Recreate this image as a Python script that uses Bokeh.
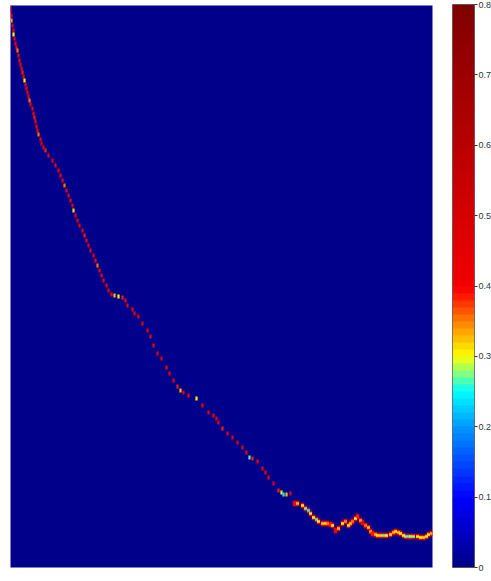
from bokeh.plotting import figure
from bokeh.models import LinearColorMapper, ColorBar, FixedTicker, Range1d, ColumnDataSource
from bokeh.embed import file_html
from bokeh.resources import INLINE
import numpy as np

# ---------------- data (image coords: x right, y down, in image pixels) ----------------
trace_x = [0, 0, 1, 1, 2, 3, 3, 4, 5, 6, 7, 8, 9, 10, 11, 12, 13, 14, 15, 16, 17, 18, 19, 20,
           22, 23, 24, 25, 26, 27, 28, 30, 31, 33, 35, 38, 42, 45, 48, 50, 52, 54, 56, 58, 60,
           62, 63, 65, 67, 69, 72, 74, 76, 78, 80, 83, 85, 87, 89, 91, 93, 96, 98, 101, 104,
           108, 112, 115, 117, 122, 124, 128, 132, 137, 140, 143, 147, 151, 156, 159, 163,
           167, 170, 173, 178, 186, 192, 198, 203, 206, 208, 212, 217, 222, 227, 232, 236,
           239, 242, 247, 252, 255, 258, 263, 268, 271, 273, 276, 280]
trace_y = [1, 5, 10, 15, 20, 25, 29, 33, 38, 42, 45, 50, 55, 59, 63, 67, 71, 75, 79, 83, 87,
           91, 95, 99, 103, 108, 112, 116, 121, 125, 129, 134, 138, 142, 145, 150, 155, 160,
           165, 170, 175, 180, 185, 190, 195, 200, 205, 210, 215, 220, 225, 230, 235, 240, 245,
           250, 255, 260, 265, 270, 275, 280, 285, 289, 290, 291, 292, 295, 300, 304, 308, 311,
           318, 325, 331, 340, 348, 353, 362, 368, 375, 381, 385, 387, 390, 393, 400, 407, 410,
           413, 417, 423, 428, 432, 437, 442, 447, 452, 453, 456, 463, 467, 472, 478, 485, 487,
           489, 489, 488]
trace_v = [0.45, 0.42, 0.40, 0.33, 0.42, 0.44, 0.30, 0.42, 0.40, 0.43, 0.35, 0.42, 0.40, 0.44,
           0.42, 0.38, 0.42, 0.30, 0.42, 0.40, 0.43, 0.42, 0.35, 0.42, 0.44, 0.42, 0.38, 0.42,
           0.40, 0.43, 0.35, 0.42, 0.44, 0.42, 0.38, 0.42, 0.43, 0.40, 0.42, 0.44, 0.42, 0.36,
           0.42, 0.40, 0.43, 0.42, 0.31, 0.42, 0.44, 0.40, 0.42, 0.38, 0.43, 0.42, 0.40, 0.44,
           0.42, 0.36, 0.42, 0.43, 0.40, 0.42, 0.44, 0.40, 0.32, 0.30, 0.38, 0.42, 0.40, 0.44,
           0.42, 0.40, 0.42, 0.43, 0.40, 0.42, 0.44, 0.42, 0.40, 0.43, 0.42, 0.38, 0.32, 0.42,
           0.40, 0.30, 0.42, 0.43, 0.40, 0.42, 0.44, 0.38, 0.42, 0.40, 0.43, 0.42, 0.40, 0.26,
           0.38, 0.42, 0.40, 0.43, 0.42, 0.42, 0.38, 0.30, 0.24, 0.32, 0.42]

thick_x = [284, 287, 292, 295, 298, 300, 303, 306, 308, 312, 315, 317, 320, 322, 325, 328,
           332, 335, 338, 340, 342, 345, 347, 350, 352, 355, 358, 360, 362, 365, 367, 370,
           373, 376, 380, 383, 385, 388, 390, 393, 395, 398, 400, 403, 407, 410, 413, 416,
           418, 421]
thick_y = [498, 498, 500, 503, 505, 508, 512, 514, 516, 518, 518, 518, 519, 520, 525, 523,
           518, 516, 520, 518, 516, 513, 511, 515, 517, 520, 522, 526, 528, 529, 530, 530,
           530, 530, 529, 527, 526, 527, 528, 530, 531, 531, 531, 531, 531, 532, 532, 531,
           529, 528]
thick_v = [0.40, 0.32, 0.30, 0.26, 0.24, 0.28, 0.30, 0.25, 0.30, 0.32, 0.30, 0.34, 0.38,
           0.30, 0.40, 0.32, 0.30, 0.34, 0.28, 0.32, 0.36, 0.30, 0.38, 0.33, 0.40, 0.36,
           0.32, 0.34, 0.38, 0.32, 0.30, 0.31, 0.26, 0.29, 0.31, 0.33, 0.30, 0.32, 0.30,
           0.29, 0.27, 0.25, 0.28, 0.27, 0.30, 0.29, 0.31, 0.28, 0.30, 0.33]
edge_v = 0.41

cbar_ticks = [0, 0.1, 0.2, 0.3, 0.4, 0.5, 0.6, 0.7, 0.8]
img_w, img_h = 422, 562
vmin, vmax = 0.0, 0.8

# ---------------- colormap (stepped jet-like below 0.4, smooth red above) ----------------
stops = [(0.00, (0.00, 0.00, 0.52)), (0.05, (0.00, 0.00, 0.76)), (0.10, (0.00, 0.00, 1.00)),
         (0.15, (0.00, 0.30, 1.00)), (0.20, (0.00, 0.60, 1.00)), (0.25, (0.00, 1.00, 1.00)),
         (0.275, (0.50, 1.00, 0.50)), (0.30, (1.00, 1.00, 0.00)), (0.35, (1.00, 0.50, 0.00)),
         (0.39, (1.00, 0.05, 0.00)), (0.40, (0.95, 0.00, 0.00)), (0.80, (0.50, 0.00, 0.00))]
sp = np.array([s[0] for s in stops])
sc = np.array([s[1] for s in stops])

def col_at(v):
    r = np.interp(v, sp, sc[:, 0]); g = np.interp(v, sp, sc[:, 1]); b = np.interp(v, sp, sc[:, 2])
    return "#%02x%02x%02x" % (int(round(r * 255)), int(round(g * 255)), int(round(b * 255)))

N = 400
palette = []
for i in range(N):
    v = (i + 0.5) * (vmax - vmin) / N
    if v < 0.4:
        v = (np.floor(v / 0.01) + 0.5) * 0.01
    palette.append(col_at(v))

mapper = LinearColorMapper(palette=palette, low=vmin, high=vmax)

p = figure(width=491, height=581, output_backend="svg", toolbar_location=None,
           x_range=Range1d(0, img_w), y_range=Range1d(img_h, 0),
           min_border_left=10, min_border_top=5, min_border_bottom=14, min_border_right=59)
p.axis.visible = False
p.grid.visible = False
p.outline_line_color = None
p.background_fill_color = palette[0]
p.border_fill_color = "white"

src_t = ColumnDataSource(dict(x=trace_x, y=trace_y, v=trace_v))
p.rect("x", "y", width=2.2, height=4.2, source=src_t, line_color=None,
       fill_color={"field": "v", "transform": mapper})

src_k = ColumnDataSource(dict(x=thick_x, y=thick_y, v=thick_v, e=[edge_v] * len(thick_x)))
p.rect("x", "y", width=3.6, height=5.4, source=src_k, line_color=None,
       fill_color={"field": "e", "transform": mapper})
p.rect("x", "y", width=3.0, height=2.4, source=src_k, line_color=None,
       fill_color={"field": "v", "transform": mapper})

cb = ColorBar(color_mapper=mapper, ticker=FixedTicker(ticks=cbar_ticks), width=22, height=563,
              padding=0, margin=0, location=(442, 0), label_standoff=1,
              major_label_text_font="Liberation Sans", major_label_text_font_size="9px",
              major_label_text_color="#333333",
              major_tick_line_color="#333333", major_tick_in=0, major_tick_out=3,
              bar_line_color="#333333", bar_line_width=0.6, background_fill_color=None,
              border_line_color=None)
p.add_layout(cb, "center")

open("out.html", "w").write(file_html(p, INLINE))
